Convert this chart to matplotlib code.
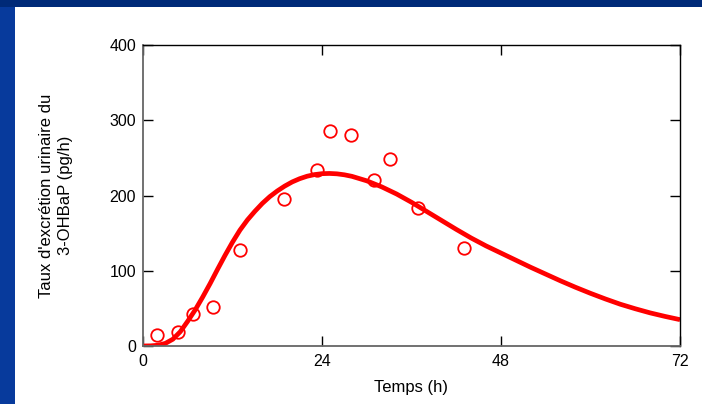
import numpy as np
import matplotlib
matplotlib.use("Agg")
import matplotlib.pyplot as plt
from matplotlib.patches import Rectangle

plt.rcParams['font.family'] = ['Liberation Sans', 'DejaVu Sans']

# measured urinary excretion rates of 3-OHBaP
temps_obs = [1.9, 4.7, 6.7, 9.4, 13.0, 18.9, 23.3, 25.1, 27.9, 31.0, 33.1, 36.9, 43.0]
taux_obs = [15, 18, 42, 52, 127, 196, 234, 286, 281, 220, 249, 184, 130]

# fitted model curve
temps_fit = [0, 1, 2, 3, 4, 5, 6, 7, 8, 9, 10, 11, 12, 13, 14, 15, 16, 17, 18,
             19, 20, 21, 22, 23, 24, 25, 26, 27, 28, 30, 32, 34, 36, 38, 40,
             42, 44, 46, 48, 50, 52, 54, 56, 58, 60, 62, 64, 66, 68, 70, 72]
taux_fit = [0, 0.2, 1, 3.5, 9, 19, 33, 48, 65, 83, 102, 120.5, 138, 154, 167.5,
            179, 189.5, 198.5, 206, 212.5, 218, 222.3, 225.6, 227.8, 229, 229.3,
            228.8, 227.5, 225.5, 219.5, 211.5, 202, 191, 179, 167,
            155, 143.5, 133, 123.5, 114, 104.5, 95.5, 86.5, 78, 70, 62.5, 55.5,
            49.5, 44, 39.3, 35]

xticks = [0, 24, 48, 72]
yticks = [0, 100, 200, 300, 400]

fig = plt.figure(figsize=(7.02, 4.04), dpi=100)
fig.patch.set_facecolor('white')
# blue slide frame on the top and left edges
fig.patches.append(Rectangle((0, 0), 15 / 702, 1, transform=fig.transFigure,
                             facecolor='#073a9c', edgecolor='none', zorder=0))
fig.patches.append(Rectangle((0, 1 - 7 / 404), 1, 7 / 404, transform=fig.transFigure,
                             facecolor='#002a78', edgecolor='none', zorder=0))

ax = fig.add_axes([143 / 702, 1 - 346 / 404, 537 / 702, 301 / 404])
ax.plot(temps_fit, taux_fit, color='#ff0000', lw=3.4, solid_capstyle='butt',
        solid_joinstyle='round', zorder=2)
ax.plot(temps_obs, taux_obs, 'o', ms=9, mfc='none', mec='#ff0000', mew=1.3, zorder=3)

ax.set_xlim(0, 72)
ax.set_ylim(0, 400)
ax.set_xticks(xticks)
ax.set_yticks(yticks)
ax.tick_params(direction='in', length=7, width=1, labelsize=11.5,
               top=True, right=True, pad=5)
ax.tick_params(axis='x', pad=6)
for s in ['left', 'bottom']:
    ax.spines[s].set_color('#666666')
    ax.spines[s].set_linewidth(1.3)
for s in ['top', 'right']:
    ax.spines[s].set_color('black')
    ax.spines[s].set_linewidth(1.0)

ax.set_xlabel('Temps (h)', fontsize=12, labelpad=8)
ax.set_ylabel("Taux d'excrétion urinaire du\n3-OHBaP (pg/h)", fontsize=12,
              labelpad=26, linespacing=1.35)

fig.savefig('out.png', dpi=100)
